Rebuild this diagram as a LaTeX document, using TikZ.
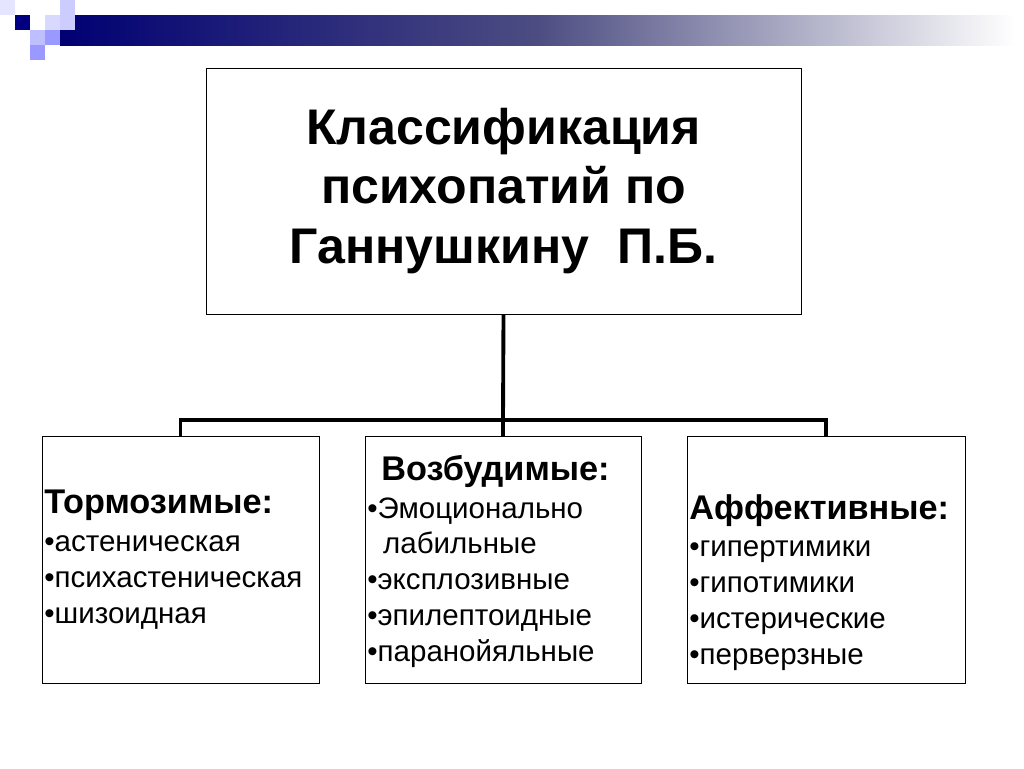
\documentclass[tikz,border=0pt]{standalone}
\usepackage{fontspec}
\setmainfont{Liberation Sans}
\begin{document}
\begin{tikzpicture}[
    x=0.02cm, y=-0.02cm,
    box/.style={draw, thin, inner sep=0pt},
    link/.style={line width=2.2pt},
    sq/.style={fill=#1, draw=none},
    cat/.style={anchor=north west, align=left, inner sep=0pt, font=\fontsize{16.8}{20.4}\selectfont}
]
\useasboundingbox (0,0) rectangle (1024,768);

% decoration
\shade[left color=blue!45!black, right color=white, middle color=blue!30!black!70!white] (60,15) rectangle (1015,45);
\fill[sq=blue!10] (0,0) rectangle (15,15);
\fill[sq=blue!50!black] (15,15) rectangle (30,30);
\fill[sq=blue!15] (45,15) rectangle (60,30);
\fill[sq=blue!20] (60,0) rectangle (75,30);
\fill[sq=blue!25] (30,30) rectangle (45,45);
\fill[sq=blue!40] (45,30) rectangle (60,45);
\fill[sq=blue!40] (30,45) rectangle (45,60);

% title
\node[box, minimum width=595*0.02cm, minimum height=246*0.02cm] (title) at (503.5,191)
  {\parbox{11cm}{\centering\fontsize{28.5}{34}\selectfont\bfseries Классификация\\психопатий по\\Ганнушкину~~П.Б.}};

% groups
\node[box, minimum width=277*0.02cm, minimum height=247*0.02cm] (inhib) at (180.5,559.5) {};
\node[box, minimum width=276*0.02cm, minimum height=247*0.02cm] (excit) at (503,559.5) {};
\node[box, minimum width=278*0.02cm, minimum height=247*0.02cm] (affect) at (826,559.5) {};

\node[cat] (inhib_text) at (44,490) {{\fontsize{19.5}{20.4}\selectfont\bfseries Тормозимые:}\\[1pt]
  •астеническая\\•психастеническая\\•шизоидная};
\node[cat] (excit_text) at (367,455) {\hspace{8pt}{\fontsize{19.5}{20.4}\selectfont\bfseries Возбудимые:}\\[1pt]
  •Эмоционально\\\hspace{9pt}лабильные\\•эксплозивные\\•эпилептоидные\\•паранойяльные};
\node[cat] (affect_text) at (689,494) {{\fontsize{19.5}{20.4}\selectfont\bfseries Аффективные:}\\[1pt]
  •гипертимики\\•гипотимики\\•истерические\\•перверзные};

% tree
\coordinate (hub) at (503,420);
\draw[link] (title.south) -- (hub);
\draw[link] (inhib.north) -- (inhib.north |- hub) -- (affect.north |- hub) -- (affect.north);
\draw[link] (hub) -- (excit.north);
\end{tikzpicture}
\end{document}
